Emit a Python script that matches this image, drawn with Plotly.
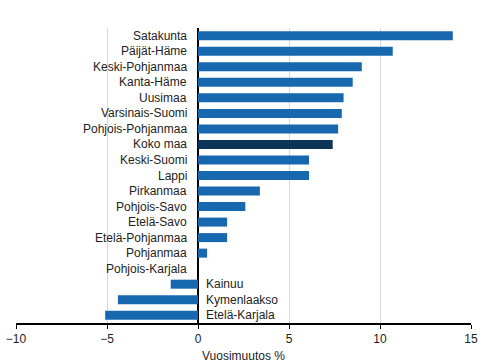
import plotly.graph_objects as go

regions = ["Satakunta", "Päijät-Häme", "Keski-Pohjanmaa", "Kanta-Häme", "Uusimaa",
           "Varsinais-Suomi", "Pohjois-Pohjanmaa", "Koko maa", "Keski-Suomi", "Lappi",
           "Pirkanmaa", "Pohjois-Savo", "Etelä-Savo", "Etelä-Pohjanmaa", "Pohjanmaa",
           "Pohjois-Karjala", "Kainuu", "Kymenlaakso", "Etelä-Karjala"]
values = [14.0, 10.7, 9.0, 8.5, 8.0, 7.9, 7.7, 7.4, 6.1, 6.1,
          3.4, 2.6, 1.6, 1.6, 0.5, 0.0, -1.5, -4.4, -5.1]
x_ticks = [-10, -5, 0, 5, 10, 15]
x_title = "Vuosimuutos %"

colors = ["#0C3457" if r == "Koko maa" else "#1868B0" for r in regions]

fig = go.Figure(go.Bar(
    y=regions, x=values, orientation="h",
    marker=dict(color=colors, line=dict(width=0)),
    width=0.58,
))

annotations = []
for r, v in zip(regions, values):
    if v >= 0:
        annotations.append(dict(x=0, y=r, xref="x", yref="y", text=r, showarrow=False,
                                xanchor="right", xshift=-9, font=dict(size=12, color="#222")))
    else:
        annotations.append(dict(x=0, y=r, xref="x", yref="y", text=r, showarrow=False,
                                xanchor="left", xshift=6, font=dict(size=12, color="#222")))

fig.update_layout(
    width=492, height=363,
    margin=dict(l=16, r=21, t=28, b=40, autoexpand=False),
    paper_bgcolor="white", plot_bgcolor="white",
    font=dict(family="Liberation Sans, Arial, sans-serif", size=12, color="#222"),
    showlegend=False,
    annotations=annotations,
    xaxis=dict(range=[-10, 15], tickvals=x_ticks, showgrid=True, gridcolor="#D9D9D9",
               gridwidth=1, zeroline=True, zerolinecolor="black", zerolinewidth=1.5,
               showline=True, linecolor="black", linewidth=1.5, ticks="outside",
               ticklen=4, tickcolor="black", automargin=False,
               ticklabeloverflow="allow",
               title=dict(text=x_title, standoff=7, font=dict(size=12)),
               tickfont=dict(size=12)),
    yaxis=dict(range=[18.5, -0.5], showticklabels=False, showgrid=False,
               zeroline=False, showline=False, automargin=False),
)

fig.write_html("out.html", config={"displayModeBar": False},
               post_script="document.body.style.margin='0';document.body.style.overflow='hidden';")
